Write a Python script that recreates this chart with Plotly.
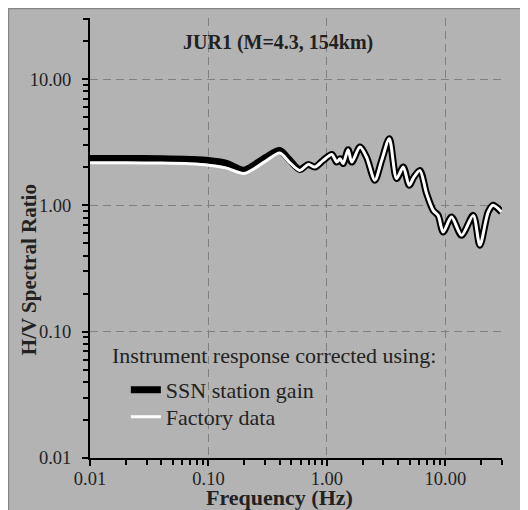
import plotly.graph_objects as go

# Frequency (Hz) and H/V ratios
freq = [0.01, 0.02, 0.04, 0.07, 0.10, 0.14, 0.20, 0.30, 0.40, 0.48, 0.59,
        0.695, 0.79, 0.93, 1.10, 1.21, 1.29, 1.37, 1.51, 1.62, 1.90, 2.16,
        2.54, 2.90, 3.36, 3.87, 4.41, 4.95, 5.42, 6.09, 6.94, 7.89, 8.69,
        9.58, 11.27, 13.7, 17.18, 19.55, 22.97, 25.3, 29.8]
ssn_gain = [2.35, 2.35, 2.34, 2.31, 2.27, 2.16, 1.90, 2.38, 2.72, 2.30, 1.92,
            2.11, 2.01, 2.27, 2.53, 2.20, 2.34, 2.14, 2.76, 2.20, 2.89, 2.41,
            1.58, 2.27, 3.37, 1.63, 2.01, 1.44, 1.67, 1.89, 1.24, 0.913, 0.833,
            0.615, 0.808, 0.579, 0.833, 0.483, 0.885, 1.00, 0.885]
factory = [2.17, 2.17, 2.16, 2.13, 2.08, 1.98, 1.79, 2.22, 2.60, 2.20, 1.89,
           2.11, 2.01, 2.27, 2.53, 2.20, 2.34, 2.14, 2.76, 2.20, 2.89, 2.41,
           1.58, 2.27, 3.37, 1.63, 2.01, 1.44, 1.67, 1.89, 1.24, 0.913, 0.833,
           0.615, 0.808, 0.579, 0.833, 0.483, 0.885, 1.00, 0.885]

tick_vals = [0.01, 0.1, 1, 10]
tick_text = ["0.01", "0.10", "1.00", "10.00"]
minor_vals = [m * 10.0 ** e for e in range(-2, 2) for m in range(2, 10)]

SERIF = "Liberation Serif"
GRAY = "#b3b3b3"
INK = "#222222"

fig = go.Figure()
fig.add_trace(go.Scatter(x=freq, y=ssn_gain, mode="lines", name="SSN station gain",
                         legend="legend",
                         line=dict(color="black", width=7, shape="spline", smoothing=0.8)))
fig.add_trace(go.Scatter(x=freq, y=factory, mode="lines", name="Factory data",
                         legend="legend2",
                         line=dict(color="white", width=3, shape="spline", smoothing=0.8)))

axis_common = dict(
    type="log", tickmode="array", tickvals=tick_vals, ticktext=tick_text,
    showline=True, linecolor="black", linewidth=2,
    ticks="outside", ticklen=6, tickwidth=1.5, tickcolor="black",
    minor=dict(tickmode="array", tickvals=minor_vals, ticks="outside",
               ticklen=5, tickwidth=1.5, tickcolor="black", showgrid=False),
    showgrid=True, gridcolor="#808080", gridwidth=1, griddash="8px,5px",
    zeroline=False,
    tickfont=dict(family=SERIF, size=18.5, color=INK),
)
fig.update_xaxes(range=[-2, 1.478], ticklabelstandoff=-3, **axis_common)
fig.update_yaxes(range=[-2, 1.483], ticklabelstandoff=7, **axis_common)

# thin border along top and left edges of the chart area
fig.add_shape(type="rect", xref="paper", yref="paper", layer="below",
              x0=-0.198, x1=1.2, y0=-0.3, y1=1.0216,
              fillcolor="rgba(0,0,0,0)", line=dict(color="#858585", width=1.5))
# legend box fill: hides the gridlines behind the legend entries
fig.add_shape(type="rect", xref="paper", yref="paper", layer="between",
              x0=0.05, x1=0.62, y0=0.065, y1=0.182,
              fillcolor=GRAY, line=dict(width=0))

fig.add_annotation(text="<b>JUR1 (M=4.3, 154km)</b>", xref="paper", yref="paper",
                   x=0.456, y=0.945, xanchor="center", yanchor="middle", showarrow=False,
                   font=dict(family=SERIF, size=20, color=INK))
fig.add_annotation(text="<b>H/V Spectral Ratio</b>", xref="paper", yref="paper",
                   x=-0.148, y=0.427, xanchor="center", yanchor="middle",
                   textangle=-90, showarrow=False,
                   font=dict(family=SERIF, size=21, color=INK))
fig.add_annotation(text="<b>Frequency (Hz)</b>", xref="paper", yref="paper",
                   x=0.461, y=-0.089, xanchor="center", yanchor="middle", showarrow=False,
                   font=dict(family=SERIF, size=22, color=INK))
fig.add_annotation(text="Instrument response corrected using:", xref="paper", yref="paper",
                   x=0.0485, y=0.234, xanchor="left", yanchor="middle", showarrow=False,
                   font=dict(family=SERIF, size=22, color=INK))

legend_style = dict(xanchor="left", yanchor="top", bgcolor="rgba(0,0,0,0)", borderwidth=0,
                    font=dict(family=SERIF, size=22, color=INK))
fig.update_layout(
    width=520, height=502,
    margin=dict(l=82, r=26, t=10, b=52),
    paper_bgcolor=GRAY, plot_bgcolor=GRAY,
    showlegend=True,
    legend=dict(x=0.087, y=0.2023, **legend_style),
    legend2=dict(x=0.087, y=0.1409, **legend_style),
)

fig.write_html("out.html")
